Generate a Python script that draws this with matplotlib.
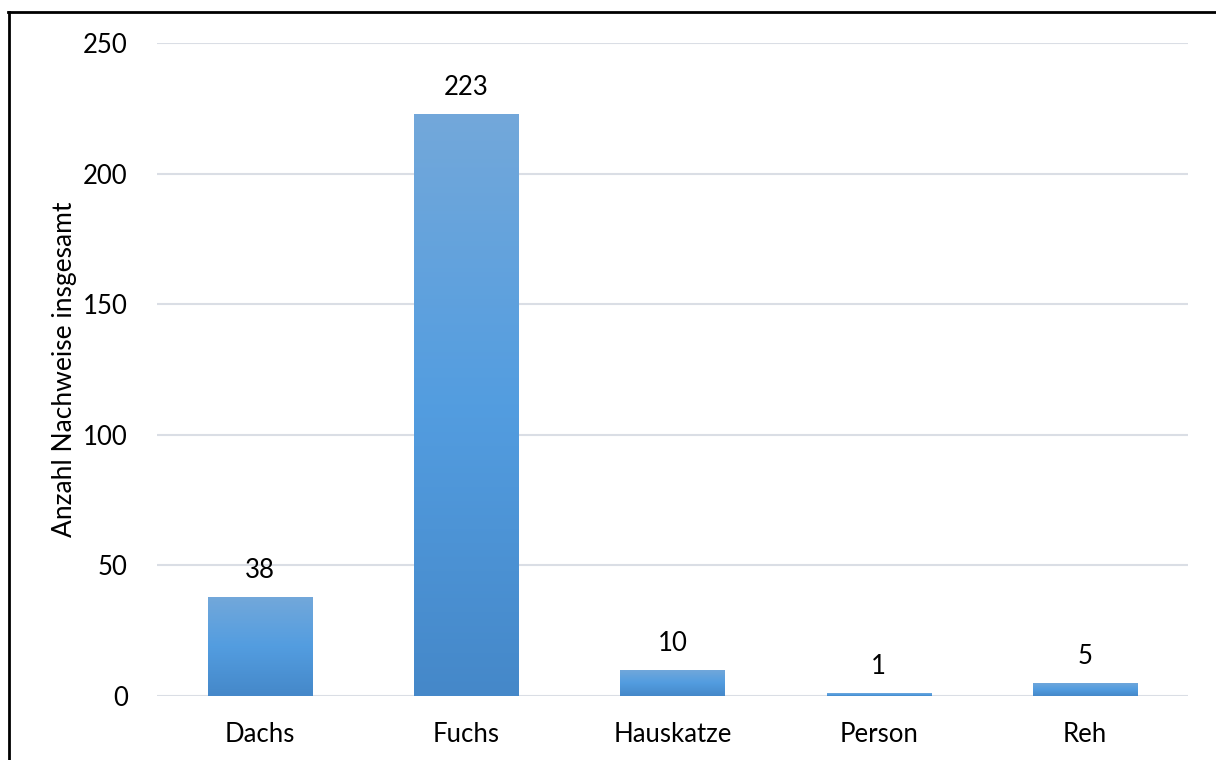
import numpy as np
import matplotlib.pyplot as plt
from matplotlib.colors import LinearSegmentedColormap
from matplotlib.lines import Line2D

categories = ["Dachs", "Fuchs", "Hauskatze", "Person", "Reh"]
counts = [38, 223, 10, 1, 5]
y_ticks = [0, 50, 100, 150, 200, 250]
y_label = "Anzahl Nachweise insgesamt"

plt.rcParams["font.family"] = ["Lato", "DejaVu Sans"]
FS = 18.5

W, H = 1216, 760
fig = plt.figure(figsize=(W / 100, H / 100), dpi=100)
ax = fig.add_axes([157 / W, 1 - 696 / H, (1188 - 157) / W, (696 - 43) / H])

x = np.arange(len(categories))
bars = ax.bar(x, counts, width=0.505, color="none", edgecolor="none", zorder=3)

# vertical gradient fill for each bar: lighter at the top, deeper at the base
grad = LinearSegmentedColormap.from_list(
    "bar_grad", ["#4588c9", "#539de0", "#73a8da"])
ramp = np.linspace(0, 1, 256).reshape(-1, 1)
for b in bars:
    x0, y0 = b.get_x(), b.get_y()
    w, h = b.get_width(), b.get_height()
    im = ax.imshow(ramp, cmap=grad, origin="lower", aspect="auto",
                   extent=[x0, x0 + w, y0, y0 + h], zorder=3)
    im.set_clip_path(b)

for xi, v in zip(x, counts):
    ax.annotate(str(v), (xi, v), xytext=(0, 10), textcoords="offset points",
                ha="center", va="bottom", fontsize=FS, color="#000000")

ax.set_xlim(-0.5, len(categories) - 0.5)
ax.set_ylim(0, 250)
ax.set_yticks(y_ticks)
ax.set_xticks(x)
ax.set_xticklabels(categories)
ax.yaxis.grid(True, color="#dadee5", linewidth=1.5, zorder=0)
ax.set_axisbelow(True)
for s in ax.spines.values():
    s.set_visible(False)
ax.tick_params(axis="both", length=0, labelsize=FS, colors="#000000")
ax.tick_params(axis="y", pad=21)
ax.tick_params(axis="x", pad=19)
ax.set_ylabel(y_label, fontsize=19, labelpad=4)

# outer frame along the left and top edges
fig.add_artist(Line2D([9 / W, 9 / W], [0, 1 - 12 / H], transform=fig.transFigure,
                      color="black", linewidth=2))
fig.add_artist(Line2D([8 / W, 1], [1 - 12 / H, 1 - 12 / H], transform=fig.transFigure,
                      color="black", linewidth=2))

fig.savefig("out.png", dpi=100)
